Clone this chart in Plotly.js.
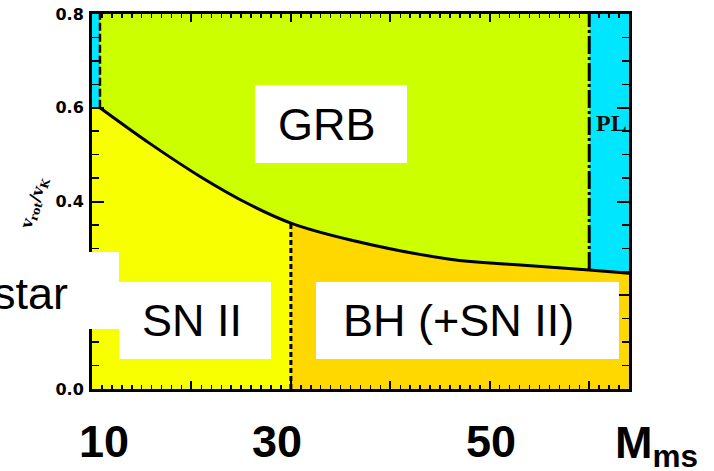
<!DOCTYPE html>
<html>
<head>
<meta charset="utf-8">
<script src="https://cdn.plot.ly/plotly-3.0.1.min.js"></script>
<style>
  html, body { margin: 0; padding: 0; background: #ffffff; }
  #chart { width: 714px; height: 471px; }
</style>
</head>
<body>
<div id="chart"></div>
<script>
// Boundary between the GRB region and the SN II / BH regions (v_rot/v_K vs main-sequence mass)
const curveMass = [10.8, 15.8, 20.9, 25.9, 30.0, 36.0, 46.0, 52.7, 60.0, 64.0];
const curveVrot = [0.600, 0.524, 0.453, 0.393, 0.354, 0.318, 0.277, 0.265, 0.254, 0.247];

// Axis extents and region dividers
const massRange = [10, 64];
const vrotRange = [0, 0.8];
const leftStripMass = [10, 10.8];   // narrow strip at the low-mass edge
const leftStripVrot = [0.6, 0.8];
const bhMass = 30;                  // SN II | BH divide
const plMass = 60;                  // start of the PL region

// Text
const regionNames = ['GRB', 'SN II', 'BH (+SN II)', 'PL'];
const sideWord = 'star';
const massLabels = ['10', '30', '50'];
const massTitle = 'M<sub>ms</sub>';
const yTitle = 'v<sub>rot</sub>/v<sub>K</sub>';

// Colours
const cGRB = '#ccff00';
const cSN = '#f7ff00';
const cBH = '#ffd800';
const cPL = '#00e6ff';

// helpers: pixel position in the page -> paper coordinates of the plot area
const L = 92, R = 629, T = 14, B = 389;
const px = x => (x - L) / (R - L);
const py = y => (B - y) / (B - T);

function slice(lo, hi) {
  const xs = [], ys = [];
  curveMass.forEach((m, i) => {
    if (m >= lo - 1e-9 && m <= hi + 1e-9) { xs.push(m); ys.push(curveVrot[i]); }
  });
  return { xs, ys };
}

const sn = slice(leftStripMass[1], bhMass);
const bh = slice(bhMass, massRange[1]);
const grb = slice(leftStripMass[1], plMass);
const pl = slice(plMass, massRange[1]);
const vAtBH = curveVrot[curveMass.indexOf(bhMass)];
const vAtPL = curveVrot[curveMass.indexOf(plMass)];

const traces = [
  // SN II region below the curve
  { x: [massRange[0]].concat(sn.xs), y: [leftStripVrot[0]].concat(sn.ys),
    mode: 'lines', line: { width: 0, shape: 'spline' }, fill: 'tozeroy',
    fillcolor: cSN, hoverinfo: 'skip' },
  // BH region below the curve
  { x: bh.xs, y: bh.ys, mode: 'lines', line: { width: 0, shape: 'spline' },
    fill: 'tozeroy', fillcolor: cBH, hoverinfo: 'skip' },
  // GRB region above the curve
  { x: [grb.xs[0], grb.xs[grb.xs.length - 1]], y: [vrotRange[1], vrotRange[1]],
    mode: 'lines', line: { width: 0 }, hoverinfo: 'skip' },
  { x: grb.xs, y: grb.ys, mode: 'lines', line: { width: 0, shape: 'spline' },
    fill: 'tonexty', fillcolor: cGRB, hoverinfo: 'skip' },
  // PL region
  { x: [pl.xs[0], pl.xs[pl.xs.length - 1]], y: [vrotRange[1], vrotRange[1]],
    mode: 'lines', line: { width: 0 }, hoverinfo: 'skip' },
  { x: pl.xs, y: pl.ys, mode: 'lines', line: { width: 0 },
    fill: 'tonexty', fillcolor: cPL, hoverinfo: 'skip' },
  // low-mass strip
  { x: [leftStripMass[0], leftStripMass[1], leftStripMass[1], leftStripMass[0]],
    y: [leftStripVrot[0], leftStripVrot[0], leftStripVrot[1], leftStripVrot[1]],
    mode: 'lines', line: { width: 0 }, fill: 'toself', fillcolor: cPL, hoverinfo: 'skip' },
  // boundary curve
  { x: curveMass, y: curveVrot, mode: 'lines',
    line: { color: '#000', width: 3, shape: 'spline' }, hoverinfo: 'skip' },
  // SN II | BH divide
  { x: [bhMass, bhMass], y: [vrotRange[0], vAtBH], mode: 'lines',
    line: { color: '#000', width: 3, dash: '5px,3px' }, hoverinfo: 'skip' },
  // PL divide
  { x: [plMass, plMass], y: [vAtPL, vrotRange[1]], mode: 'lines',
    line: { color: '#000', width: 3, dash: '18px,3px,3px,3px' }, hoverinfo: 'skip' },
  // low-mass strip edge
  { x: [leftStripMass[1], leftStripMass[1]], y: [leftStripVrot[0], leftStripVrot[1]],
    mode: 'lines', line: { color: '#000', width: 2.5, dash: '8px,3px' }, hoverinfo: 'skip' }
];

const box = (x0, y0, x1, y1) => ({
  type: 'rect', xref: 'paper', yref: 'paper', layer: 'above',
  x0: px(x0), x1: px(x1), y0: py(y1), y1: py(y0),
  fillcolor: '#ffffff', line: { width: 0 }
});

const sansBig = { family: 'Liberation Sans, Arial, sans-serif', size: 45, color: '#000' };
const sansBold = { family: 'Liberation Sans, Arial, sans-serif', size: 45, color: '#000', weight: 'bold' };

const ann = (text, x, y, font, extra) => Object.assign({
  text, xref: 'paper', yref: 'paper', x: px(x), y: py(y),
  showarrow: false, font, xanchor: 'center', yanchor: 'middle'
}, extra || {});

const layout = {
  width: 714, height: 471,
  margin: { l: L, r: 714 - R, t: T, b: 471 - B, pad: 0 },
  paper_bgcolor: '#ffffff', plot_bgcolor: '#ffffff',
  showlegend: false,
  xaxis: {
    range: massRange, showline: true, linewidth: 3, linecolor: '#000',
    mirror: 'allticks', ticks: 'inside', ticklen: 8, tickwidth: 2, tickcolor: '#000',
    tick0: 0, dtick: 10, showticklabels: false, showgrid: false, zeroline: false,
    minor: { dtick: 1, ticks: 'inside', ticklen: 4, tickwidth: 1.5, tickcolor: '#000', showgrid: false }
  },
  yaxis: {
    range: vrotRange, showline: true, linewidth: 3, linecolor: '#000',
    mirror: 'allticks', ticks: 'inside', ticklen: 12, tickwidth: 2, tickcolor: '#000',
    tick0: 0, dtick: 0.2, tickformat: '.1f', showgrid: false, zeroline: false,
    ticklabelstandoff: 2,
    tickfont: { family: 'DejaVu Sans, sans-serif', size: 16, color: '#000', weight: 'bold' },
    minor: { dtick: 0.05, ticks: 'inside', ticklen: 7, tickwidth: 1.5, tickcolor: '#000', showgrid: false }
  },
  shapes: [
    box(255, 85, 407, 163),
    box(119, 282, 271, 359),
    box(316, 282, 619, 359),
    box(-5, 252, 119, 329)
  ],
  annotations: [
    ann(regionNames[0], 327, 124, sansBig),
    ann(regionNames[1], 191.5, 320, sansBig),
    ann(regionNames[2], 458.5, 320, sansBig),
    ann(regionNames[3], 611, 123,
        { family: 'Liberation Serif, serif', size: 24, color: '#111', weight: 'bold' }),
    ann(sideWord, 70, 294, sansBig, { xanchor: 'right' }),
    ann(massLabels[0], 104, 441, sansBold),
    ann(massLabels[1], 277, 441, sansBold),
    ann(massLabels[2], 491, 441, sansBold),
    ann(massTitle, 613, 446, sansBold, { xanchor: 'left' }),
    ann(yTitle, 34, 203,
        { family: 'DejaVu Serif, serif', size: 16, color: '#000', weight: 'bold' },
        { textangle: -72 })
  ]
};

Plotly.newPlot('chart', traces, layout, { staticPlot: true, displayModeBar: false });
</script>
</body>
</html>
